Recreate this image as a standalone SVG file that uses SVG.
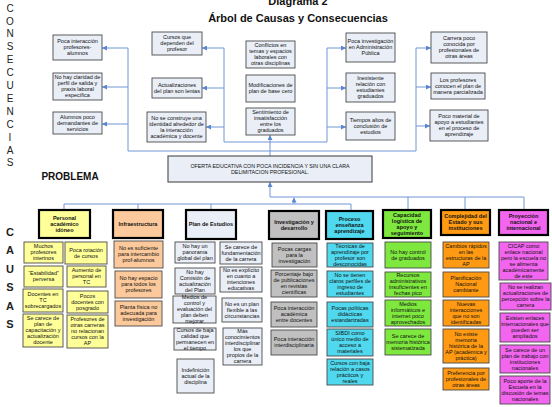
<svg xmlns="http://www.w3.org/2000/svg" width="552" height="407" viewBox="0 0 552 407">
<defs>
<style>
text{font-family:"Liberation Sans",Arial,sans-serif;fill:#111;}
.t{font-size:5.5px;text-anchor:middle;}
.b{font-weight:bold;}
.bx{stroke:#4a4a4a;stroke-width:0.9;}
.hd{stroke:#000;stroke-width:2.2;}
.lb{fill:#e9eef7;}
.ye{fill:#ffff99;}
.pe{fill:#fbc99b;}
.gr{fill:#c0c0c0;}
.cy{fill:#50d8ee;}
.gn{fill:#7ee83f;}
.or{fill:#ff9a12;}
.pk{fill:#f266ef;}
.cn{fill:none;stroke:#7096d6;stroke-width:1;}
.side{font-size:10px;text-anchor:middle;fill:#222;}
.side2{font-size:11px;font-weight:bold;text-anchor:middle;fill:#222;}
</style>
<marker id="ar" markerUnits="userSpaceOnUse" markerWidth="5" markerHeight="5" refX="5" refY="2.5" orient="auto">
<path d="M0,0 L5,2.5 L0,5 z" fill="#5a85d0"/>
</marker>
</defs>
<rect width="552" height="407" fill="#fff"/>

<text x="298" y="5" class="b" style="font-size:11px;text-anchor:middle">Diagrama 2</text>
<text x="298" y="22" class="b" style="font-size:11px;text-anchor:middle">Árbol de Causas y Consecuencias</text>
<text x="70" y="180" class="b" style="font-size:10px;text-anchor:middle">PROBLEMA</text>

<g id="consecuencias-label">
<text class="side" x="10" y="11.6">C</text>
<text class="side" x="10" y="24.5">O</text>
<text class="side" x="10" y="37.4">N</text>
<text class="side" x="10" y="50.3">S</text>
<text class="side" x="10" y="63.2">E</text>
<text class="side" x="10" y="76.1">C</text>
<text class="side" x="10" y="89">U</text>
<text class="side" x="10" y="101.9">E</text>
<text class="side" x="10" y="114.8">N</text>
<text class="side" x="10" y="127.7">C</text>
<text class="side" x="10" y="140.6">I</text>
<text class="side" x="10" y="153.5">A</text>
<text class="side" x="10" y="166.4">S</text>
</g>
<g id="causas-label">
<text class="side2" x="10" y="236">C</text>
<text class="side2" x="10" y="254.4">A</text>
<text class="side2" x="10" y="272.8">U</text>
<text class="side2" x="10" y="291.2">S</text>
<text class="side2" x="10" y="309.6">A</text>
<text class="side2" x="10" y="328">S</text>
</g>

<g id="connectors">
<path class="cn" d="M128,48 V151 M224,48 V142 M327,48 V142 M416,48 V151 M128,151 H416 M224,142 H327"/>
<path class="cn" marker-end="url(#ar)" d="M128,48 H102"/>
<path class="cn" marker-end="url(#ar)" d="M128,87 H102"/>
<path class="cn" marker-end="url(#ar)" d="M128,124 H102"/>
<path class="cn" marker-end="url(#ar)" d="M224,48 H202"/>
<path class="cn" marker-end="url(#ar)" d="M224,88 H202"/>
<path class="cn" marker-end="url(#ar)" d="M224,127 H206"/>
<path class="cn" marker-end="url(#ar)" d="M327,48 H346"/>
<path class="cn" marker-end="url(#ar)" d="M327,88 H346"/>
<path class="cn" marker-end="url(#ar)" d="M327,127 H346"/>
<path class="cn" marker-end="url(#ar)" d="M416,48 H431"/>
<path class="cn" marker-end="url(#ar)" d="M416,87 H431"/>
<path class="cn" marker-end="url(#ar)" d="M416,126 H430"/>
<path class="cn" marker-end="url(#ar)" d="M270,156 V135"/>
<path class="cn" marker-end="url(#ar)" d="M270,197 V182"/>
<path class="cn" d="M270,197 H524 M408,197 V210 M465,197 V210 M524,197 V210"/>
<path class="cn" marker-end="url(#ar)" d="M294,204 V197.5"/>
<path class="cn" d="M64,204 H351 M64,204 V210 M138,204 V210 M211,204 V210 M351,204 V211"/>
</g>

<g id="c1a"><rect class="bx lb" x="53" y="35" width="49" height="25"/><text class="t" y="43.4"><tspan x="77.5">Poca interacción</tspan><tspan x="77.5" dy="6">profesores-</tspan><tspan x="77.5" dy="6">alumnos</tspan></text></g>
<g id="c1b"><rect class="bx lb" x="53" y="73" width="49" height="27"/><text class="t" y="79.4"><tspan x="77.5">No hay claridad de</tspan><tspan x="77.5" dy="6">perfil de salida y</tspan><tspan x="77.5" dy="6">praxis laboral</tspan><tspan x="77.5" dy="6">específica</tspan></text></g>
<g id="c1c"><rect class="bx lb" x="53" y="112" width="49" height="22"/><text class="t" y="118.9"><tspan x="77.5">Alumnos poco</tspan><tspan x="77.5" dy="6">demandantes de</tspan><tspan x="77.5" dy="6">servicios</tspan></text></g>
<g id="c2a"><rect class="bx lb" x="152" y="32" width="50" height="23"/><text class="t" y="39.4"><tspan x="177">Cursos que</tspan><tspan x="177" dy="6">dependen del</tspan><tspan x="177" dy="6">profesor</tspan></text></g>
<g id="c2b"><rect class="bx lb" x="152" y="78" width="50" height="20"/><text class="t" y="86.9"><tspan x="177">Actualizaciones</tspan><tspan x="177" dy="6">del plan son lentas</tspan></text></g>
<g id="c2c"><rect class="bx lb" x="147" y="112" width="59" height="30"/><text class="t" y="119.9"><tspan x="176.5">No se construye una</tspan><tspan x="176.5" dy="6">identidad alrededor de</tspan><tspan x="176.5" dy="6">la interacción</tspan><tspan x="176.5" dy="6">académica y docente</tspan></text></g>
<g id="c3a"><rect class="bx lb" x="246" y="41" width="49" height="27"/><text class="t" y="47.4"><tspan x="270.5">Conflictos en</tspan><tspan x="270.5" dy="6">temas y espacios</tspan><tspan x="270.5" dy="6">laborales con</tspan><tspan x="270.5" dy="6">otras disciplinas</tspan></text></g>
<g id="c3b"><rect class="bx lb" x="246" y="75" width="49" height="27"/><text class="t" y="87.4"><tspan x="270.5">Modificaciones de</tspan><tspan x="270.5" dy="6">plan de base cero</tspan></text></g>
<g id="c3c"><rect class="bx lb" x="246" y="108" width="49" height="27"/><text class="t" y="114.4"><tspan x="270.5">Sentimiento de</tspan><tspan x="270.5" dy="6">insatisfacción</tspan><tspan x="270.5" dy="6">entre los</tspan><tspan x="270.5" dy="6">graduados</tspan></text></g>
<g id="c4a"><rect class="bx lb" x="346" y="33" width="49" height="29"/><text class="t" y="43.4"><tspan x="370.5">Poca investigación</tspan><tspan x="370.5" dy="6">en Administración</tspan><tspan x="370.5" dy="6">Pública</tspan></text></g>
<g id="c4b"><rect class="bx lb" x="346" y="73" width="49" height="29"/><text class="t" y="80.4"><tspan x="370.5">Inexistente</tspan><tspan x="370.5" dy="6">relación con</tspan><tspan x="370.5" dy="6">estudiantes</tspan><tspan x="370.5" dy="6">graduados</tspan></text></g>
<g id="c4c"><rect class="bx lb" x="346" y="112" width="49" height="28"/><text class="t" y="121.9"><tspan x="370.5">Tiempos altos de</tspan><tspan x="370.5" dy="6">conclusión de</tspan><tspan x="370.5" dy="6">estudios</tspan></text></g>
<g id="c5a"><rect class="bx lb" x="431" y="32" width="56" height="31"/><text class="t" y="40.4"><tspan x="459">Carrera poco</tspan><tspan x="459" dy="6">conocida por</tspan><tspan x="459" dy="6">profesionales de</tspan><tspan x="459" dy="6">otras áreas</tspan></text></g>
<g id="c5b"><rect class="bx lb" x="431" y="73" width="54" height="26"/><text class="t" y="81.9"><tspan x="458">Los profesores</tspan><tspan x="458" dy="6">conocen el plan de</tspan><tspan x="458" dy="6">manera parcializada</tspan></text></g>
<g id="c5c"><rect class="bx lb" x="430" y="110" width="58" height="31"/><text class="t" y="118.4"><tspan x="459">Poco material de</tspan><tspan x="459" dy="6">apoyo a estudiantes</tspan><tspan x="459" dy="6">en el proceso de</tspan><tspan x="459" dy="6">aprendizaje</tspan></text></g>

<g id="problema"><rect class="bx lb" x="168" y="156" width="204" height="26" style="stroke-width:1.1"/><text class="t" y="167.5" style="font-size:5.3px"><tspan x="270">OFERTA EDUCATIVA CON POCA INCIDENCIA Y SIN UNA CLARA</tspan><tspan x="270" dy="6">DELIMITACION PROFESIONAL.</tspan></text></g>

<g id="h1"><rect class="hd ye" x="39" y="210" width="51" height="28"/><text class="t b" y="219.9"><tspan x="64.5">Personal</tspan><tspan x="64.5" dy="6">académico</tspan><tspan x="64.5" dy="6">idóneo</tspan></text></g>
<g id="h2"><rect class="hd pe" x="113" y="210" width="50" height="28"/><text class="t b" y="225.9"><tspan x="138">Infraestructura</tspan></text></g>
<g id="h3"><rect class="hd lb" x="186" y="210" width="50" height="29"/><text class="t b" y="226.4"><tspan x="211">Plan de Estudios</tspan></text></g>
<g id="h4"><rect class="hd gr" x="269" y="211" width="50" height="28"/><text class="t b" y="223.9"><tspan x="294">Investigación y</tspan><tspan x="294" dy="6">desarrollo</tspan></text></g>
<g id="h5"><rect class="hd cy" x="326" y="211" width="47" height="28"/><text class="t b" y="220.9"><tspan x="349.5">Proceso</tspan><tspan x="349.5" dy="6">enseñanza</tspan><tspan x="349.5" dy="6">aprendizaje</tspan></text></g>
<g id="h6"><rect class="hd gn" x="383" y="210" width="48" height="28"/><text class="t b" y="216.9"><tspan x="407">Capacidad</tspan><tspan x="407" dy="6">logística de</tspan><tspan x="407" dy="6">apoyo y</tspan><tspan x="407" dy="6">seguimiento</tspan></text></g>
<g id="h7"><rect class="hd or" x="441" y="210" width="49" height="25"/><text class="t b" y="218.4"><tspan x="465.5">Complejidad del</tspan><tspan x="465.5" dy="6">Estado y sus</tspan><tspan x="465.5" dy="6">instituciones</tspan></text></g>
<g id="h8"><rect class="hd pk" x="499" y="210" width="49" height="25"/><text class="t b" y="218.4"><tspan x="523.5">Proyección</tspan><tspan x="523.5" dy="6">nacional e</tspan><tspan x="523.5" dy="6">internacional</tspan></text></g>

<g id="p1"><rect class="bx ye" x="24" y="242" width="39" height="21"/><text class="t" y="248.4"><tspan x="43.5">Muchos</tspan><tspan x="43.5" dy="6">profesores</tspan><tspan x="43.5" dy="6">interinos</tspan></text></g>
<g id="p2"><rect class="bx ye" x="24" y="266" width="39" height="21"/><text class="t" y="275.4"><tspan x="43.5">“Estabilidad”</tspan><tspan x="43.5" dy="6">perversa</tspan></text></g>
<g id="p3"><rect class="bx ye" x="23" y="289" width="40" height="23"/><text class="t" y="296.4"><tspan x="43">Docentes en</tspan><tspan x="43" dy="6">TC</tspan><tspan x="43" dy="6">sobrecargados</tspan></text></g>
<g id="p4"><rect class="bx ye" x="23" y="314" width="40" height="33"/><text class="t" y="320.4"><tspan x="43">Se carece de</tspan><tspan x="43" dy="6">plan de</tspan><tspan x="43" dy="6">capacitación y</tspan><tspan x="43" dy="6">actualización</tspan><tspan x="43" dy="6">docente</tspan></text></g>
<g id="p5"><rect class="bx ye" x="65" y="242" width="42" height="22"/><text class="t" y="251.9"><tspan x="86">Poca rotación</tspan><tspan x="86" dy="6">de cursos</tspan></text></g>
<g id="p6"><rect class="bx ye" x="67" y="266" width="39" height="21"/><text class="t" y="272.4"><tspan x="86.5">Aumento de</tspan><tspan x="86.5" dy="6">personal en</tspan><tspan x="86.5" dy="6">TC</tspan></text></g>
<g id="p7"><rect class="bx ye" x="67" y="291" width="41" height="22"/><text class="t" y="297.9"><tspan x="87.5">Pocos</tspan><tspan x="87.5" dy="6">docentes con</tspan><tspan x="87.5" dy="6">posgrado</tspan></text></g>
<g id="p8"><rect class="bx ye" x="67" y="315" width="41" height="33"/><text class="t" y="321.4"><tspan x="87.5">Profesores de</tspan><tspan x="87.5" dy="6">otras carreras</tspan><tspan x="87.5" dy="6">no relacionan</tspan><tspan x="87.5" dy="6">cursos con la</tspan><tspan x="87.5" dy="6">AP</tspan></text></g>

<g id="i1"><rect class="bx pe" x="114" y="241" width="49" height="27"/><text class="t" y="250.4"><tspan x="138.5">No es suficiente</tspan><tspan x="138.5" dy="6">para intercambio</tspan><tspan x="138.5" dy="6">prof-alumnos</tspan></text></g>
<g id="i2"><rect class="bx pe" x="115" y="271" width="47" height="27"/><text class="t" y="280.4"><tspan x="138.5">No hay espacio</tspan><tspan x="138.5" dy="6">para todos los</tspan><tspan x="138.5" dy="6">profesores</tspan></text></g>
<g id="i3"><rect class="bx pe" x="115" y="301" width="47" height="25"/><text class="t" y="309.4"><tspan x="138.5">Planta física no</tspan><tspan x="138.5" dy="6">adecuada para</tspan><tspan x="138.5" dy="6">investigación</tspan></text></g>

<g id="l1"><rect class="bx lb" x="175" y="242" width="40" height="21"/><text class="t" y="248.4"><tspan x="195">No hay un</tspan><tspan x="195" dy="6">panorama</tspan><tspan x="195" dy="6">global del plan</tspan></text></g>
<g id="l2"><rect class="bx lb" x="175" y="268" width="40" height="26"/><text class="t" y="273.9"><tspan x="195">No hay</tspan><tspan x="195" dy="6">Comisión de</tspan><tspan x="195" dy="6">actualización</tspan><tspan x="195" dy="6">del Plan</tspan></text></g>
<g id="l3"><rect class="bx lb" x="173" y="296" width="43" height="27"/><text class="t" y="299.4"><tspan x="194.5">Medios de</tspan><tspan x="194.5" dy="6">control y</tspan><tspan x="194.5" dy="6">evaluación del</tspan><tspan x="194.5" dy="6">plan deben</tspan><tspan x="194.5" dy="6">mejorar</tspan></text></g>
<g id="l4"><rect class="bx lb" x="174" y="328" width="42" height="22"/><text class="t" y="331.9"><tspan x="195">Cursos de baja</tspan><tspan x="195" dy="6">calidad que</tspan><tspan x="195" dy="6">permanecen en</tspan><tspan x="195" dy="6">el tiempo</tspan></text></g>
<g id="l5"><rect class="bx lb" x="177" y="359" width="37" height="34"/><text class="t" y="371.9"><tspan x="195.5">Indefinición</tspan><tspan x="195.5" dy="6">actual de la</tspan><tspan x="195.5" dy="6">disciplina</tspan></text></g>
<g id="r1"><rect class="bx lb" x="220" y="242" width="42" height="22"/><text class="t" y="248.9"><tspan x="241">Se carece de</tspan><tspan x="241" dy="6">fundamentación</tspan><tspan x="241" dy="6">de la carrera</tspan></text></g>
<g id="r2"><rect class="bx lb" x="220" y="267" width="42" height="25"/><text class="t" y="272.4"><tspan x="241">No es explícito</tspan><tspan x="241" dy="6">en cuanto a</tspan><tspan x="241" dy="6">intenciones</tspan><tspan x="241" dy="6">educativas</tspan></text></g>
<g id="r3"><rect class="bx lb" x="222" y="298" width="40" height="24"/><text class="t" y="305.9"><tspan x="242">No es un plan</tspan><tspan x="242" dy="6">flexible a las</tspan><tspan x="242" dy="6">circunstancias</tspan></text></g>
<g id="r4"><rect class="bx lb" x="223" y="328" width="39" height="37"/><text class="t" y="333.4"><tspan x="242.5">Más</tspan><tspan x="242.5" dy="6">conocimientos</tspan><tspan x="242.5" dy="6">interdisciplinar</tspan><tspan x="242.5" dy="6">los que</tspan><tspan x="242.5" dy="6">propios de la</tspan><tspan x="242.5" dy="6">carrera</tspan></text></g>

<g id="v1"><rect class="bx gr" x="272" y="243" width="45" height="24"/><text class="t" y="250.9"><tspan x="294.5">Pocas cargas</tspan><tspan x="294.5" dy="6">para la</tspan><tspan x="294.5" dy="6">investigación</tspan></text></g>
<g id="v2"><rect class="bx gr" x="271" y="270" width="46" height="27"/><text class="t" y="276.4"><tspan x="294">Porcentaje bajo</tspan><tspan x="294" dy="6">de publicaciones</tspan><tspan x="294" dy="6">en revistas</tspan><tspan x="294" dy="6">científicas</tspan></text></g>
<g id="v3"><rect class="bx gr" x="271" y="302" width="46" height="25"/><text class="t" y="310.4"><tspan x="294">Poca interacción</tspan><tspan x="294" dy="6">académica</tspan><tspan x="294" dy="6">entre docentes</tspan></text></g>
<g id="v4"><rect class="bx gr" x="271" y="330" width="46" height="25"/><text class="t" y="341.4"><tspan x="294">Poca interacción</tspan><tspan x="294" dy="6">interdisciplinaria</tspan></text></g>

<g id="s1"><rect class="bx cy" x="327" y="243" width="46" height="24"/><text class="t" y="247.9"><tspan x="350">Técnicas de</tspan><tspan x="350" dy="6">aprendizaje por</tspan><tspan x="350" dy="6">profesor son</tspan><tspan x="350" dy="6">desconocidas</tspan></text></g>
<g id="s2"><rect class="bx cy" x="327" y="271" width="46" height="26"/><text class="t" y="276.9"><tspan x="350">No se tienen</tspan><tspan x="350" dy="6">claros perfiles de</tspan><tspan x="350" dy="6">ingreso de</tspan><tspan x="350" dy="6">estudiantes</tspan></text></g>
<g id="s3"><rect class="bx cy" x="327" y="302" width="46" height="25"/><text class="t" y="310.4"><tspan x="350">Pocas políticas</tspan><tspan x="350" dy="6">didácticas</tspan><tspan x="350" dy="6">estandarizadas</tspan></text></g>
<g id="s4"><rect class="bx cy" x="327" y="329" width="46" height="27"/><text class="t" y="335.4"><tspan x="350">SIBDI  como</tspan><tspan x="350" dy="6">único medio de</tspan><tspan x="350" dy="6">acceso a</tspan><tspan x="350" dy="6">materiales</tspan></text></g>
<g id="s5"><rect class="bx cy" x="327" y="359" width="46" height="26"/><text class="t" y="364.9"><tspan x="350">Cursos con baja</tspan><tspan x="350" dy="6">relación a casos</tspan><tspan x="350" dy="6">prácticos y</tspan><tspan x="350" dy="6">reales</tspan></text></g>

<g id="g1"><rect class="bx gn" x="385" y="242" width="46" height="26"/><text class="t" y="253.9"><tspan x="408">No hay control</tspan><tspan x="408" dy="6">de graduados</tspan></text></g>
<g id="g2"><rect class="bx gn" x="385" y="272" width="46" height="25"/><text class="t" y="277.4"><tspan x="408">Recursos</tspan><tspan x="408" dy="6">administrativos</tspan><tspan x="408" dy="6">insuficientes en</tspan><tspan x="408" dy="6">fechas pico</tspan></text></g>
<g id="g3"><rect class="bx gn" x="385" y="300" width="46" height="26"/><text class="t" y="305.9"><tspan x="408">Medios</tspan><tspan x="408" dy="6">informáticos e</tspan><tspan x="408" dy="6">internet poco</tspan><tspan x="408" dy="6">aprovechados</tspan></text></g>
<g id="g4"><rect class="bx gn" x="385" y="329" width="46" height="26"/><text class="t" y="337.9"><tspan x="408">Se carece de</tspan><tspan x="408" dy="6">memoria histórica</tspan><tspan x="408" dy="6">sistematizada</tspan></text></g>

<g id="o1"><rect class="bx or" x="443" y="242" width="46" height="26"/><text class="t" y="247.9"><tspan x="466">Cambios rápidos</tspan><tspan x="466" dy="6">en las</tspan><tspan x="466" dy="6">estructuras de la</tspan><tspan x="466" dy="6">AP</tspan></text></g>
<g id="o2"><rect class="bx or" x="443" y="272" width="46" height="25"/><text class="t" y="280.4"><tspan x="466">Planificación</tspan><tspan x="466" dy="6">Nacional</tspan><tspan x="466" dy="6">cambiante</tspan></text></g>
<g id="o3"><rect class="bx or" x="443" y="300" width="46" height="26"/><text class="t" y="305.9"><tspan x="466">Nuevas</tspan><tspan x="466" dy="6">interacciones</tspan><tspan x="466" dy="6">que no son</tspan><tspan x="466" dy="6">identificadas</tspan></text></g>
<g id="o4"><rect class="bx or" x="443" y="329" width="46" height="34"/><text class="t" y="335.9"><tspan x="466">No existe</tspan><tspan x="466" dy="6">memoria</tspan><tspan x="466" dy="6">histórica de la</tspan><tspan x="466" dy="6">AP (académica y</tspan><tspan x="466" dy="6">práctica)</tspan></text></g>
<g id="o5"><rect class="bx or" x="443" y="368" width="46" height="22"/><text class="t" y="374.9"><tspan x="466">Preferencia por</tspan><tspan x="466" dy="6">profesionales de</tspan><tspan x="466" dy="6">otras áreas</tspan></text></g>

<g id="y1"><rect class="bx pk" x="499" y="242" width="49" height="38"/><text class="t" y="247.9"><tspan x="523.5">CICAP como</tspan><tspan x="523.5" dy="6">enlace nacional</tspan><tspan x="523.5" dy="6">pero la escuela no</tspan><tspan x="523.5" dy="6">se alimenta</tspan><tspan x="523.5" dy="6">académicamente</tspan><tspan x="523.5" dy="6">de este</tspan></text></g>
<g id="y2"><rect class="bx pk" x="500" y="283" width="51" height="27"/><text class="t" y="289.4"><tspan x="525.5">No se realizan</tspan><tspan x="525.5" dy="6">actualizaciones de</tspan><tspan x="525.5" dy="6">percepción sobre la</tspan><tspan x="525.5" dy="6">carrera</tspan></text></g>
<g id="y3"><rect class="bx pk" x="500" y="313" width="50" height="29"/><text class="t" y="320.4"><tspan x="525">Existen enlaces</tspan><tspan x="525" dy="6">internacionales que</tspan><tspan x="525" dy="6">pueden ser</tspan><tspan x="525" dy="6">ampliados</tspan></text></g>
<g id="y4"><rect class="bx pk" x="500" y="345" width="50" height="28"/><text class="t" y="351.9"><tspan x="525">Se carece de un</tspan><tspan x="525" dy="6">plan de trabajo con</tspan><tspan x="525" dy="6">instituciones</tspan><tspan x="525" dy="6">nacionales</tspan></text></g>
<g id="y5"><rect class="bx pk" x="500" y="376" width="50" height="28"/><text class="t" y="382.9"><tspan x="525">Poco aporte de la</tspan><tspan x="525" dy="6">Escuela en la</tspan><tspan x="525" dy="6">discusión de temas</tspan><tspan x="525" dy="6">nacionales</tspan></text></g>
</svg>
